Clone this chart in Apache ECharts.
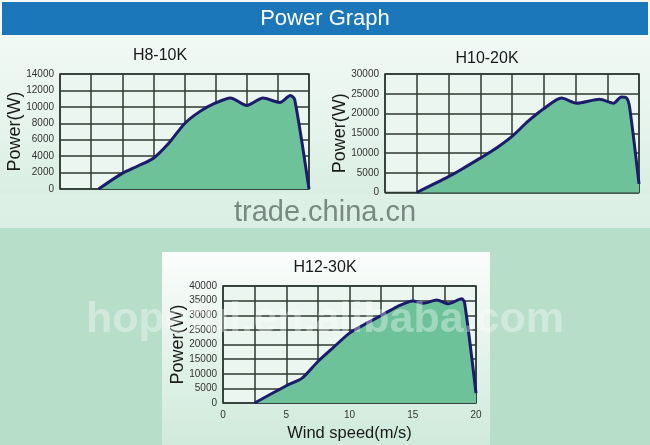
<!DOCTYPE html>
<html>
<head>
<meta charset="utf-8">
<script src="https://cdn.jsdelivr.net/npm/echarts@6/dist/echarts.min.js"></script>
<style>
html,body{margin:0;padding:0;background:#b7dec9;}
#c{width:650px;height:445px;}
</style>
</head>
<body>
<div id="c"></div>
<script>
// ---- data ----
const pageTitle = 'Power Graph';
const panelTitles = ['H8-10K', 'H10-20K', 'H12-30K'];
const yAxisName = 'Power(W)';
const xAxisName = 'Wind speed(m/s)';
const windRange = [0, 20];
const windStep = 2.5;
const yMaxes = [14000, 30000, 40000];
const ySteps = [2000, 5000, 5000];

const windH8 = [3.1, 5, 6.25, 7.5, 8.75, 10, 11.25, 12.5, 13.7, 15.0, 16.3, 17.66, 18.5, 18.85, 20];
const powerH8 = [0, 1900, 2800, 3750, 5600, 7950, 9450, 10470, 11080, 10170, 11070, 10540, 11390, 10900, 0];

const windH10 = [2.5, 5, 6.25, 7.5, 8.75, 10, 11.25, 12.5, 13.9, 15.1, 16.9, 18.0, 18.6, 19.0, 19.25, 20];
const powerH10 = [0, 4000, 6300, 8700, 11200, 14200, 18000, 21200, 23900, 22600, 23600, 22600, 24200, 24000, 21800, 2200];

const windH12 = [2.5, 5, 6.25, 7.5, 8.75, 10, 11.25, 12.5, 13.75, 15, 15.85, 16.9, 17.8, 18.87, 19.1, 20];
const powerH12 = [0, 5900, 8500, 14200, 19100, 23900, 27000, 29900, 32900, 34900, 34100, 35200, 33900, 35600, 34300, 3400];

const watermark1 = 'trade.china.cn';
const watermark2 = 'hopeful.en.alibaba.com';

// ---- build ----
const pairs = (xs, ys) => xs.map((x, i) => [x, ys[i]]);
const winds = [windH8, windH10, windH12];
const powers = [powerH8, powerH10, powerH12];

const grids = [
  {left: 60, top: 74, width: 249, height: 115},
  {left: 385, top: 74, width: 254, height: 118.5},
  {left: 223, top: 286, width: 253, height: 117}
];
const FONT = '"Liberation Sans", Arial, sans-serif';
const gridLine = {show: true, lineStyle: {color: '#2b3a32', width: 1.5}};

const option = {
  animation: false,
  backgroundColor: '#b7dec9',
  textStyle: {fontFamily: FONT},
  graphic: [
    {type: 'rect', z: -20, shape: {x: 0, y: 0, width: 650, height: 228},
      style: {fill: new echarts.graphic.LinearGradient(0, 0, 0, 1, [
        {offset: 0, color: '#f6fbf9'}, {offset: 0.6, color: '#e4f3eb'}, {offset: 1, color: '#d3ebde'}])}},
    {type: 'rect', z: -19, shape: {x: 0, y: 194, width: 650, height: 34},
      style: {fill: 'rgba(225,242,233,0.6)'}},
    {type: 'rect', z: -18, shape: {x: 2, y: 2, width: 646, height: 33},
      style: {fill: '#1b77ba'}},
    {type: 'text', z: 50, x: 325, y: 19,
      style: {text: pageTitle, fill: '#ffffff', font: '22px ' + FONT, align: 'center', verticalAlign: 'middle'}},
    {type: 'rect', z: -17, shape: {x: 162, y: 252, width: 328, height: 193},
      style: {fill: new echarts.graphic.LinearGradient(0, 0, 0, 1, [
        {offset: 0, color: '#fbfdfc'}, {offset: 1, color: '#cfeadb'}])}},
    {type: 'text', z: 60, x: 325, y: 213,
      style: {text: watermark1, fill: 'rgba(110,125,118,0.9)', font: '29px ' + FONT, align: 'center', verticalAlign: 'middle'}},
    {type: 'text', z: 60, x: 325, y: 320,
      style: {text: watermark2, fill: 'rgba(255,255,255,0.35)', font: 'bold 43px ' + FONT, align: 'center', verticalAlign: 'middle'}}
  ],
  title: [
    {text: panelTitles[0], left: 160, top: 56, textAlign: 'center', textVerticalAlign: 'middle'},
    {text: panelTitles[1], left: 487, top: 59, textAlign: 'center', textVerticalAlign: 'middle'},
    {text: panelTitles[2], left: 325, top: 268, textAlign: 'center', textVerticalAlign: 'middle'}
  ].map(t => Object.assign(t, {padding: 0, textStyle: {fontSize: 16, fontWeight: 'normal', color: '#1a1a1a', fontFamily: FONT}})),
  grid: grids.map(g => Object.assign({show: true, backgroundColor: '#eaf6ef', borderColor: '#2b3a32', borderWidth: 1.5}, g)),
  xAxis: grids.map((g, i) => ({
    type: 'value', gridIndex: i, min: windRange[0], max: windRange[1], interval: windStep,
    axisLine: {show: false}, axisTick: {show: false},
    splitLine: gridLine,
    axisLabel: {show: i === 2, color: '#333', fontSize: 10, margin: 7,
      formatter: v => (v % 5 === 0 ? String(v) : '')},
    name: i === 2 ? xAxisName : '', nameLocation: 'middle', nameGap: 22, nameMoveOverlap: false,
    nameTextStyle: {fontSize: 16.5, color: '#1a1a1a'}
  })),
  yAxis: grids.map((g, i) => ({
    type: 'value', gridIndex: i, min: 0, max: yMaxes[i], interval: ySteps[i],
    axisLine: {show: false}, axisTick: {show: false},
    splitLine: gridLine,
    axisLabel: {color: '#333', fontSize: 10, margin: 6, formatter: v => String(v)},
    name: yAxisName, nameLocation: 'middle', nameGap: 36, nameRotate: 90, nameMoveOverlap: false,
    nameTextStyle: {fontSize: 18, color: '#1a1a1a'}
  })),
  series: grids.map((g, i) => ({
    type: 'line', xAxisIndex: i, yAxisIndex: i,
    data: pairs(winds[i], powers[i]),
    smooth: 0.25, symbol: 'none', z: 5,
    lineStyle: {color: '#1c1b6c', width: 3},
    areaStyle: {color: '#6dc29a', opacity: 1}
  }))
};

const chart = echarts.init(document.getElementById('c'), null, {renderer: 'canvas'});
chart.setOption(option);
</script>
</body>
</html>
